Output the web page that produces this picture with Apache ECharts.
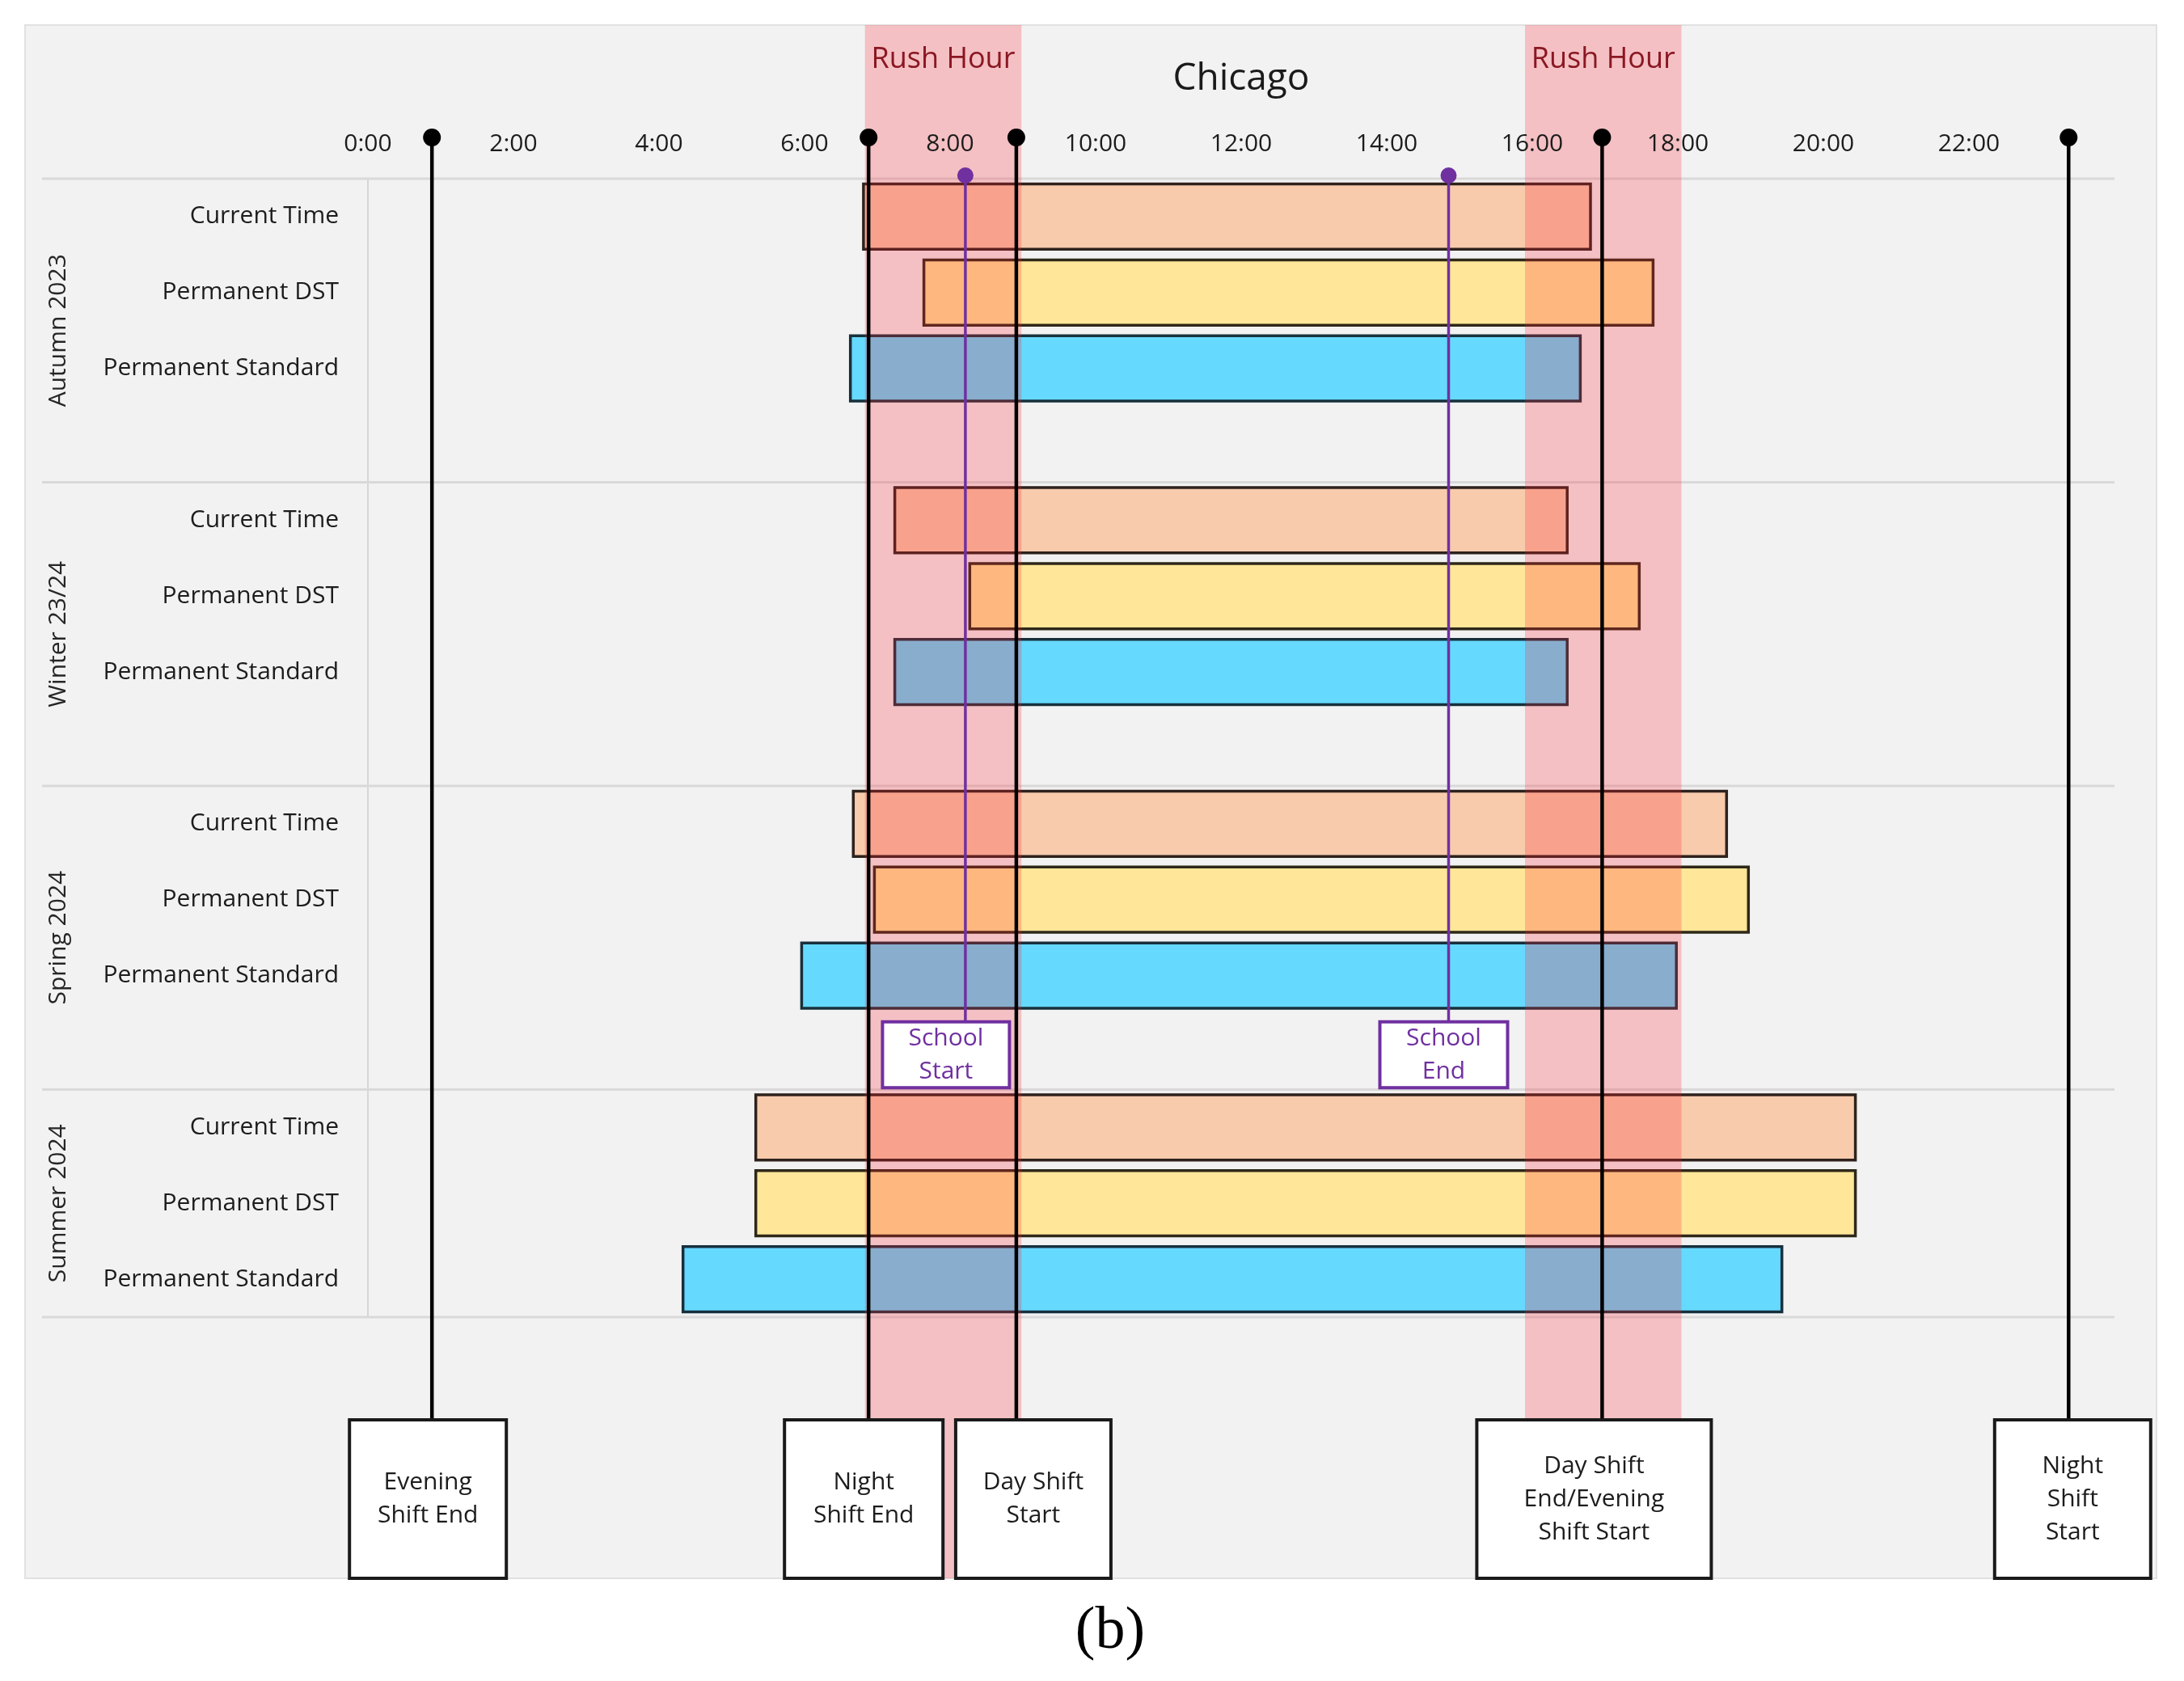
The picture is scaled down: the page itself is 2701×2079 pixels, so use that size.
<!DOCTYPE html>
<html>
<head>
<meta charset="utf-8">
<script src="https://cdn.jsdelivr.net/npm/echarts@6/dist/echarts.min.js"></script>
<style>
html,body{margin:0;padding:0;background:#ffffff;}
#chart{width:2701px;height:2079px;}
</style>
</head>
<body>
<div id="chart"></div>
<script>
// ---------------- DATA ----------------
const seasons   = ['Autumn 2023', 'Winter 23/24', 'Spring 2024', 'Summer 2024'];
const scenarios = ['Current Time', 'Permanent DST', 'Permanent Standard'];

// daylight window (hours of day) per season, one array per scenario
const currentStart  = [6.81, 7.24, 6.67, 5.33];
const currentEnd    = [16.80, 16.48, 18.67, 20.44];
const dstStart      = [7.64, 8.27, 6.96, 5.33];
const dstEnd        = [17.66, 17.47, 18.97, 20.44];
const standardStart = [6.63, 7.24, 5.96, 4.33];
const standardEnd   = [16.66, 16.48, 17.98, 19.43];

const rushStart = [6.83, 15.90];
const rushEnd   = [8.98, 18.05];
const rushLabel = 'Rush Hour';

const schoolTimes  = [8.21, 14.85];
const schoolLabels = ['School\nStart', 'School\nEnd'];

const shiftTimes  = [0.88, 6.88, 8.91, 16.96, 23.37];
const shiftLabels = ['Evening\nShift End', 'Night\nShift End', 'Day Shift\nStart', 'Day Shift\nEnd/Evening\nShift Start', 'Night\nShift\nStart'];

const xTickValues = [0, 2, 4, 6, 8, 10, 12, 14, 16, 18, 20, 22];
const titleText = 'Chicago';
const captionText = '(b)';

// ---------------- STYLE / LAYOUT ----------------
const L = {
  gridLeft: 455, gridTop: 221, gridWidth: 2160, gridHeight: 1408,
  panelX: 31, panelY: 31, panelW: 2636, panelH: 1921,
  frameLeft: 52, seasonLabelX: 72,
  shiftDotY: 170, shiftBoxTop: 1756, shiftBoxH: 196,
  schoolDotY: 217, rushLabelY: 74, titleY: 98, captionY: 2019, captionX: 1373
};
const barFill = ['#f8cbad', '#ffe699', '#66d9ff'];
const barStroke = ['#2e221c', '#2e2818', '#17303c'];
const shiftBoxWidth = [194, 196, 192, 290, 193];
const shiftBoxShift = [-5, -6, 21, -10, 5];
const schoolBoxWidth = [157, 158];
const schoolBoxShift = [-24, -6];
const FONT = '"Open Sans", "Noto Sans", sans-serif';
const TXT = '#1c1c1c';
const PURPLE = '#7030a0';

// ---------------- BUILD ----------------
const rowKeys = [];
seasons.forEach((s, i) => {
  scenarios.forEach(sc => rowKeys.push(s + '|' + sc));
  if (i < seasons.length - 1) rowKeys.push('gap' + i + '|');
});
const rowOf = (si, ki) => rowKeys.indexOf(seasons[si] + '|' + scenarios[ki]);

const starts = [currentStart, dstStart, standardStart];
const ends = [currentEnd, dstEnd, standardEnd];
const barData = [];
seasons.forEach((s, si) => {
  scenarios.forEach((sc, ki) => {
    barData.push([starts[ki][si], ends[ki][si], rowOf(si, ki), ki]);
  });
});

const frameData = seasons.map((s, i) => [0, rowOf(i, 0), i]);
const rushData = rushStart.map((v, i) => [v, rushEnd[i], 0]);
const schoolRow = rowKeys.indexOf('gap2|');
const schoolData = schoolTimes.map((t, i) => [t, schoolRow, i]);
const shiftData = shiftTimes.map((t, i) => [t, 0, i]);

function renderFrame(params, api) {
  const cs = params.coordSys;
  const i = api.value(2);
  const pitch = api.size([0, 1])[1];
  const yTop = api.coord([0, api.value(1)])[1] - pitch / 2;
  const span = i < seasons.length - 1 ? 4 : 3;
  const children = [
    { type: 'line', shape: { x1: L.frameLeft, y1: yTop, x2: cs.x + cs.width, y2: yTop },
      style: { stroke: '#d9d9d9', lineWidth: 3 } },
    { type: 'text', x: L.seasonLabelX, y: yTop + span * pitch / 2, rotation: Math.PI / 2,
      style: { text: seasons[i], fontSize: 30, fontFamily: FONT, fill: '#262626', align: 'center', verticalAlign: 'middle' } }
  ];
  if (i === seasons.length - 1) {
    const yb = yTop + span * pitch;
    children.push({ type: 'line', shape: { x1: L.frameLeft, y1: yb, x2: cs.x + cs.width, y2: yb },
      style: { stroke: '#d9d9d9', lineWidth: 3 } });
  }
  return { type: 'group', children };
}

function renderBar(params, api) {
  const row = api.value(2);
  const s = api.coord([api.value(0), row]);
  const e = api.coord([api.value(1), row]);
  const h = api.size([0, 1])[1] * 0.86;
  const k = api.value(3);
  return { type: 'rect', shape: { x: s[0], y: s[1] - h / 2, width: e[0] - s[0], height: h },
    style: { fill: barFill[k], stroke: barStroke[k], lineWidth: 3.5 } };
}

function renderRush(params, api) {
  const x1 = api.coord([api.value(0), 0])[0];
  const x2 = api.coord([api.value(1), 0])[0];
  return { type: 'group', children: [
    { type: 'rect', shape: { x: x1, y: L.panelY, width: x2 - x1, height: L.panelH },
      style: { fill: 'rgba(250,32,45,0.24)' } },
    { type: 'text', x: (x1 + x2) / 2, y: L.rushLabelY,
      style: { text: rushLabel, fontSize: 36, fontFamily: FONT, fill: '#8a1722', align: 'center', verticalAlign: 'middle' } }
  ] };
}

function renderSchool(params, api) {
  const i = api.value(2);
  const p = api.coord([api.value(0), api.value(1)]);
  const x = p[0];
  const pitch = api.size([0, 1])[1];
  const bh = pitch * 0.87;
  const top = p[1] + 4 - bh / 2;
  const w = schoolBoxWidth[i];
  const cx = x + schoolBoxShift[i];
  return { type: 'group', children: [
    { type: 'line', shape: { x1: x, y1: L.schoolDotY, x2: x, y2: top }, style: { stroke: PURPLE, lineWidth: 3.5 } },
    { type: 'circle', shape: { cx: x, cy: L.schoolDotY, r: 10 }, style: { fill: PURPLE } },
    { type: 'rect', shape: { x: cx - w / 2, y: top, width: w, height: bh },
      style: { fill: '#ffffff', stroke: PURPLE, lineWidth: 4 } },
    { type: 'text', x: cx, y: top + bh / 2,
      style: { text: schoolLabels[i], fontSize: 30, lineHeight: 41, fontFamily: FONT, fill: PURPLE, align: 'center', verticalAlign: 'middle' } }
  ] };
}

function renderShift(params, api) {
  const i = api.value(2);
  const x = api.coord([api.value(0), 0])[0];
  const w = shiftBoxWidth[i];
  const cx = x + shiftBoxShift[i];
  return { type: 'group', children: [
    { type: 'line', shape: { x1: x, y1: L.shiftDotY, x2: x, y2: L.shiftBoxTop }, style: { stroke: '#000000', lineWidth: 4.5 } },
    { type: 'circle', shape: { cx: x, cy: L.shiftDotY, r: 11 }, style: { fill: '#000000' } },
    { type: 'rect', shape: { x: cx - w / 2, y: L.shiftBoxTop, width: w, height: L.shiftBoxH },
      style: { fill: '#ffffff', stroke: '#1a1a1a', lineWidth: 4 } },
    { type: 'text', x: cx, y: L.shiftBoxTop + L.shiftBoxH / 2,
      style: { text: shiftLabels[i], fontSize: 30, lineHeight: 41, fontFamily: FONT, fill: TXT, align: 'center', verticalAlign: 'middle' } }
  ] };
}

const chart = echarts.init(document.getElementById('chart'), null, { renderer: 'canvas' });
chart.setOption({
  backgroundColor: '#ffffff',
  animation: false,
  graphic: [
    { type: 'rect', z: -100, shape: { x: L.panelX, y: L.panelY, width: L.panelW, height: L.panelH },
      style: { fill: '#f2f2f2', stroke: '#e1e1e1', lineWidth: 2 } },
    { type: 'text', z: 100, x: L.gridLeft + L.gridWidth / 2, y: L.titleY,
      style: { text: titleText, fontSize: 46, fontFamily: FONT, fill: '#1a1a1a', align: 'center', verticalAlign: 'middle' } },
    { type: 'text', z: 100, x: L.captionX, y: L.captionY,
      style: { text: captionText, fontSize: 74, fontFamily: '"Liberation Serif", "DejaVu Serif", serif', fill: '#000000', align: 'center', verticalAlign: 'middle' } }
  ],
  grid: { left: L.gridLeft, top: L.gridTop, width: L.gridWidth, height: L.gridHeight, outerBoundsMode: 'none', containLabel: false },
  xAxis: {
    type: 'value', position: 'top', min: 0, max: 24, interval: 2, z: 10,
    axisLine: { show: false }, axisTick: { show: false }, splitLine: { show: false },
    axisLabel: {
      showMaxLabel: false, margin: 28, fontSize: 30, fontFamily: FONT, color: TXT,
      formatter: v => (xTickValues.indexOf(v) >= 0 ? v + ':00' : '')
    }
  },
  yAxis: {
    type: 'category', inverse: true, data: rowKeys,
    axisLine: { show: true, lineStyle: { color: '#d6d6d6', width: 2 } },
    axisTick: { show: false }, splitLine: { show: false },
    axisLabel: { interval: 0, margin: 36, fontSize: 30, fontFamily: FONT, color: TXT,
      formatter: v => v.split('|')[1] || '' }
  },
  series: [
    { type: 'custom', name: 'frame', z: 1, silent: true, renderItem: renderFrame, data: frameData, encode: { x: 0, y: 1 } },
    { type: 'custom', name: 'daylight', z: 2, renderItem: renderBar, data: barData, encode: { x: [0, 1], y: 2 } },
    { type: 'custom', name: 'rush', z: 3, silent: true, renderItem: renderRush, data: rushData, encode: { x: [0, 1], y: 2 } },
    { type: 'custom', name: 'school', z: 4, renderItem: renderSchool, data: schoolData, encode: { x: 0, y: 1 } },
    { type: 'custom', name: 'shifts', z: 5, renderItem: renderShift, data: shiftData, encode: { x: 0, y: 1 } }
  ]
});
</script>
</body>
</html>
